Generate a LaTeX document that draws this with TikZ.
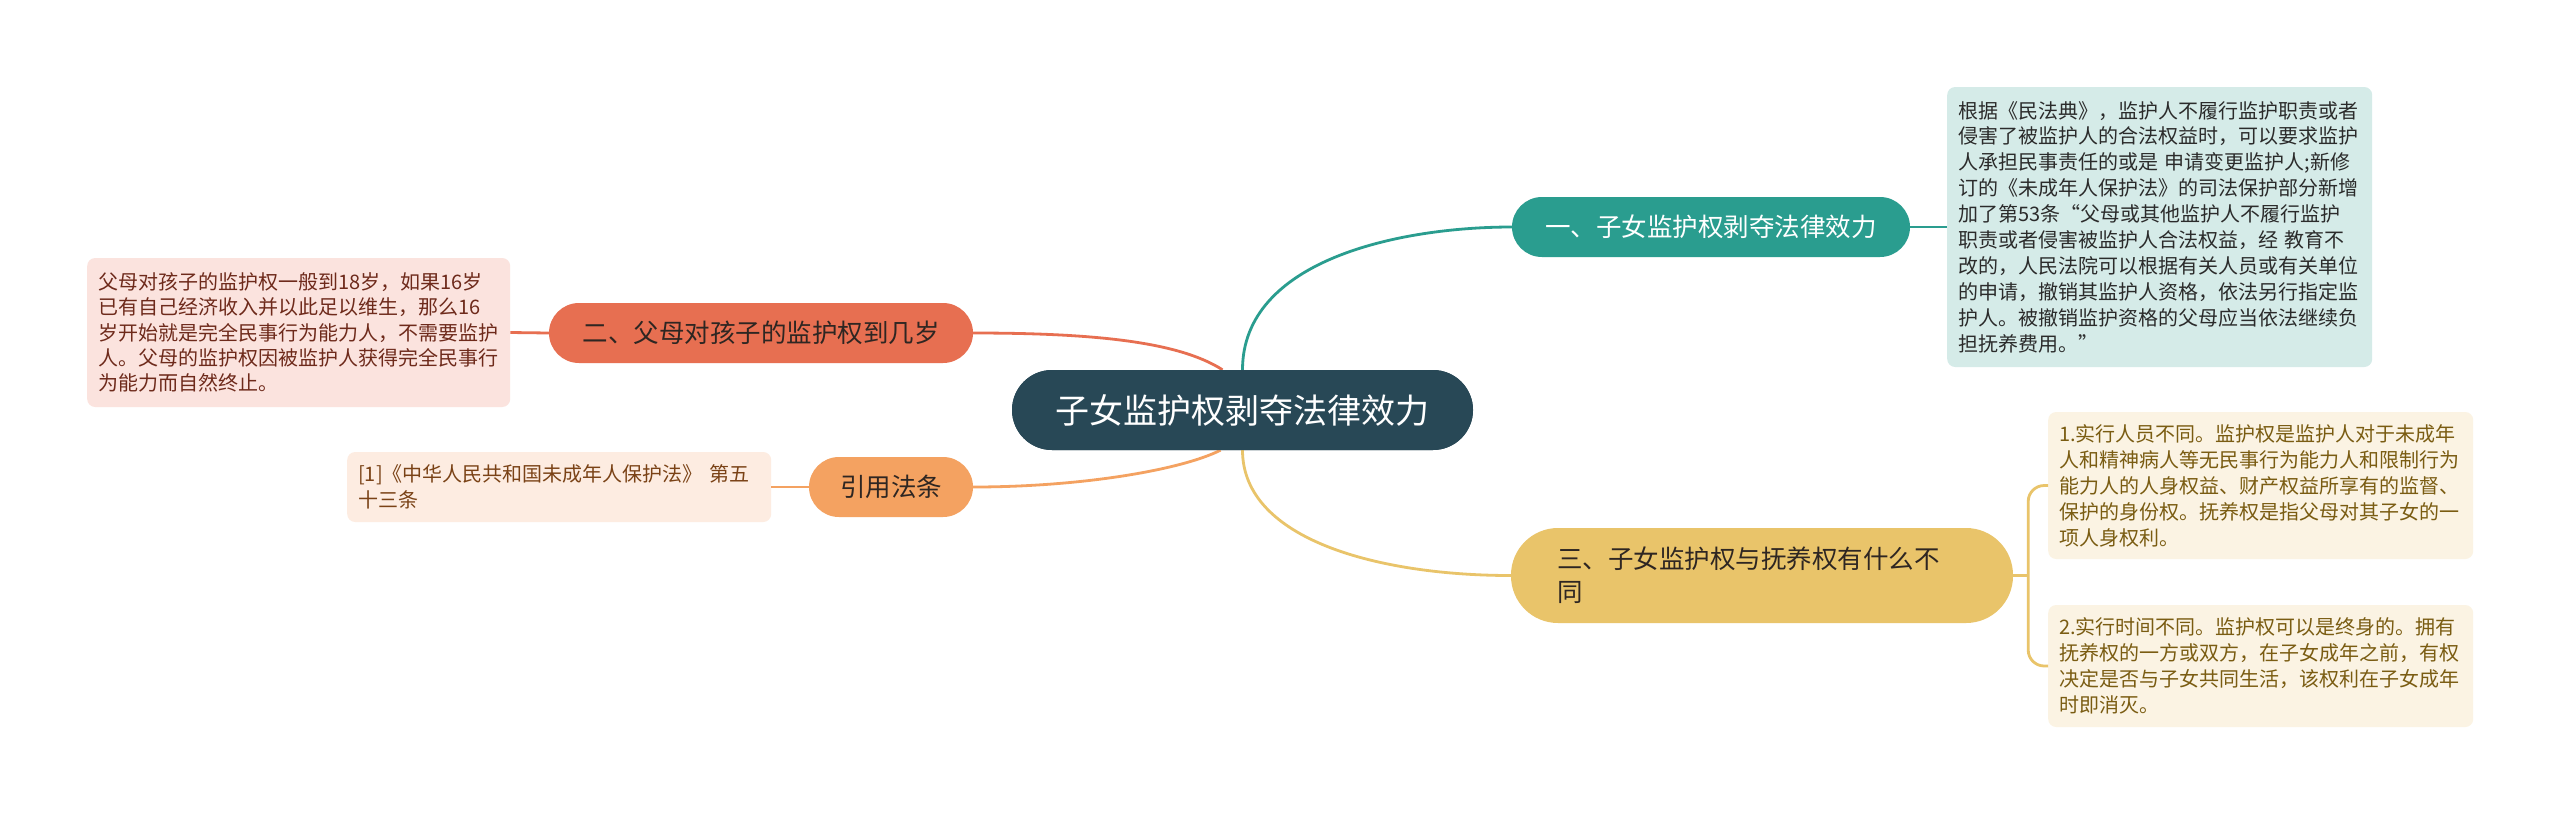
\documentclass[tikz,border=0pt]{standalone}
\usepackage{fontspec}
\setmainfont{Noto Sans CJK SC}
\usetikzlibrary{calc}
\definecolor{cdark}{HTML}{284856}
\definecolor{cteal}{HTML}{2A9D8F}
\definecolor{cred}{HTML}{E76F51}
\definecolor{corange}{HTML}{F4A261}
\definecolor{cyellow}{HTML}{E9C46A}
\definecolor{fteal}{HTML}{D5EBE8}
\definecolor{fred}{HTML}{FBE3DE}
\definecolor{forange}{HTML}{FDECE1}
\definecolor{fyellow}{HTML}{FBF3E3}
\definecolor{tteal}{HTML}{2B2B2B}
\definecolor{tred}{HTML}{6E2A1B}
\definecolor{torange}{HTML}{7A4216}
\definecolor{tyellow}{HTML}{7A5C12}
\definecolor{tbranch}{HTML}{2E2622}
\begin{document}
\begin{tikzpicture}[x=1pt,y=-1pt,
  pill/.style={rectangle, draw=none, inner sep=0pt, align=center,
    font=\fontsize{25.5}{33}\selectfont},
  detail/.style={rectangle, draw=none, rounded corners=8pt, anchor=west,
    inner xsep=11pt, inner ysep=0pt, align=left},
  link/.style={line width=2.8pt}
]
\fill[white] (0,0) rectangle (2560,815);
\useasboundingbox (0,0) rectangle (2560,815);

% center
\node[pill, fill=cdark, text=white, rounded corners=40pt, minimum width=461pt,
  minimum height=80pt, font=\fontsize{34}{40}\selectfont] (c) at (1242.5,410) {子女监护权剥夺法律效力};

% branches
\node[pill, fill=cteal, text=white, rounded corners=30pt, minimum width=398pt,
  minimum height=60pt] (b1) at (1711,227) {一、子女监护权剥夺法律效力};
\node[pill, fill=cred, text=tbranch, rounded corners=30pt, minimum width=424pt,
  minimum height=60pt] (b2) at (761,333) {二、父母对孩子的监护权到几岁};
\node[pill, fill=corange, text=tbranch, rounded corners=30pt, minimum width=164pt,
  minimum height=60pt] (b4) at (891,487) {引用法条};
\node[pill, fill=cyellow, text=tbranch, rounded corners=47pt, minimum width=502pt,
  minimum height=95pt, text width=410pt, align=left] (b3) at (1762,575.5) {三、子女监护权与抚养权有什么不\\同};

% details
\node[detail, fill=fteal, text=tteal, text width=403pt, minimum height=280pt,
  font=\fontsize{20}{25.9}\selectfont] (d1) at (1947,227) {根据《民法典》，监护人不履行监护职责或者\\侵害了被监护人的合法权益时，可以要求监护\\人承担民事责任的或是 申请变更监护人;新修\\订的《未成年人保护法》的司法保护部分新增\\加了第53条“父母或其他监护人不履行监护\\职责或者侵害被监护人合法权益，经 教育不\\改的，人民法院可以根据有关人员或有关单位\\的申请，撤销其监护人资格，依法另行指定监\\护人。被撤销监护资格的父母应当依法继续负\\担抚养费用。”};
\node[detail, fill=fred, text=tred, text width=401pt, minimum height=149pt,
  font=\fontsize{20}{25.3}\selectfont] (d2) at (87,332.5) {父母对孩子的监护权一般到18岁，如果16岁\\已有自己经济收入并以此足以维生，那么16\\岁开始就是完全民事行为能力人，不需要监护\\人。父母的监护权因被监护人获得完全民事行\\为能力而自然终止。};
\node[detail, fill=forange, text=torange, text width=402pt, minimum height=70pt,
  font=\fontsize{20}{26}\selectfont] (d4) at (347,487) {[1]《中华人民共和国未成年人保护法》 第五\\十三条};
\node[detail, fill=fyellow, text=tyellow, text width=403pt, minimum height=147pt,
  font=\fontsize{20}{26}\selectfont] (d3a) at (2048,485.5) {1.实行人员不同。监护权是监护人对于未成年\\人和精神病人等无民事行为能力人和限制行为\\能力人的人身权益、财产权益所享有的监督、\\保护的身份权。抚养权是指父母对其子女的一\\项人身权利。};
\node[detail, fill=fyellow, text=tyellow, text width=403pt, minimum height=122pt,
  font=\fontsize{20}{26}\selectfont] (d3b) at (2048,666) {2.实行时间不同。监护权可以是终身的。拥有\\抚养权的一方或双方，在子女成年之前，有权\\决定是否与子女共同生活，该权利在子女成年\\时即消灭。};

% connectors from center
\draw[link, cteal] (c.north) .. controls +(0,-110) and +(-112,0) .. (b1.west);
\draw[link, cyellow] (c.south) .. controls +(0,90) and +(-131,0) .. (b3.west);
\coordinate (cnw) at ($(c.north)+(-20,0)$);
\coordinate (csw) at ($(c.south)+(-22,0)$);
\draw[link, cred] (b2.east) .. controls +(127,0) and +(-42,-27) .. (cnw);
\draw[link, corange] (b4.east) .. controls +(107,0) and +(-40,20) .. (csw);

% branch to details
\draw[link, cteal] (b1.east) -- (d1.west);
\draw[link, cred] (b2.west) -- (d2.east);
\draw[link, corange] (b4.west) -- (d4.east);
\coordinate (j) at ($(b3.east)+(15,0)$);
\draw[link, cyellow] (b3.east) -- (j);
\draw[link, cyellow, rounded corners=16pt] (d3a.west) -| (j) |- (d3b.west);

% redraw center on top of connectors
\node[pill, fill=cdark, text=white, rounded corners=40pt, minimum width=461pt,
  minimum height=80pt, font=\fontsize{34}{40}\selectfont] at (c) {子女监护权剥夺法律效力};
\end{tikzpicture}
\end{document}
